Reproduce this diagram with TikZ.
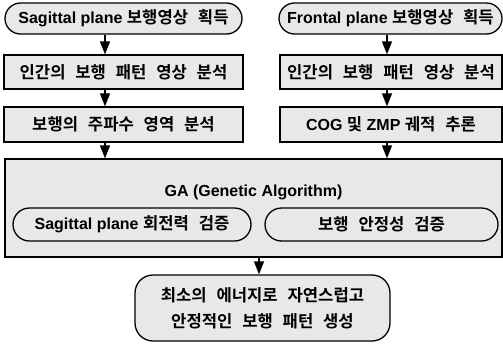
\documentclass[tikz,border=0pt]{standalone}
\usepackage{fontspec}
\setmainfont{Liberation Sans}[BoldFont={Liberation Sans Bold}]
\newfontfamily\kr{Noto Sans CJK KR}[BoldFont={Noto Sans CJK KR Bold},WordSpace=2.6,Scale=1.04]
\usetikzlibrary{shapes.misc,arrows.meta}
\begin{document}
\begin{tikzpicture}[x=1pt,y=-1pt,
  box/.style={draw,line width=1.3pt,fill=black!9,rectangle,inner sep=0pt,
    font=\bfseries\fontsize{16}{19}\selectfont},
  stadium/.style={box,rounded rectangle},
  arr/.style={line width=1.3pt,-{Triangle[length=13pt,width=10pt]}}]
\useasboundingbox (0,0) rectangle (503,343);
% top row
\node[stadium,minimum width=237pt,minimum height=31pt] (tl) at (123.5,18.5) {Sagittal plane {\kr 보행영상 획득}};
\node[stadium,minimum width=223pt,minimum height=31pt] (tr) at (390.5,18.5) {Frontal plane {\kr 보행영상 획득}};
% second row
\node[box,minimum width=239pt,minimum height=34pt] (l2) at (123.5,72) {\kr 인간의 보행 패턴 영상 분석};
\node[box,minimum width=222pt,minimum height=34pt] (r2) at (391,72) {\kr 인간의 보행 패턴 영상 분석};
% third row
\node[box,minimum width=239pt,minimum height=35pt] (l3) at (123.5,124.5) {\kr 보행의 주파수 영역 분석};
\node[box,minimum width=222pt,minimum height=35pt] (r3) at (391,124.5) {COG {\kr 및} ZMP {\kr 궤적 추론}};
% GA box
\node[box,minimum width=497pt,minimum height=98pt] (ga) at (253.5,208) {};
\node[font=\bfseries\fontsize{16}{19}\selectfont,inner sep=0pt] (galabel) at (253.5,192) {GA (Genetic Algorithm)};
\node[stadium,minimum width=238pt,minimum height=33pt] (is1) at (132,224.5) {Sagittal plane {\kr 회전력 검증}};
\node[stadium,minimum width=233pt,minimum height=33pt] (is2) at (381.5,224.5) {\kr 보행 안정성 검증};
% final
\node[box,rounded corners=18pt,minimum width=255pt,minimum height=66pt,align=center,
  font=\bfseries\kr\fontsize{16}{26}\selectfont] (fin) at (262.5,308) {최소의 에너지로 자연스럽고\\안정적인 보행 패턴 생성};
% arrows
\coordinate (xl) at (105,0);
\coordinate (xr) at (387,0);
\coordinate (xb) at (259,0);
\draw[arr] (tl.south -| xl) -- (l2.north -| xl);
\draw[arr] (l2.south -| xl) -- (l3.north -| xl);
\draw[arr] (l3.south -| xl) -- (ga.north -| xl);
\draw[arr] (tr.south -| xr) -- (r2.north -| xr);
\draw[arr] (r2.south -| xr) -- (r3.north -| xr);
\draw[arr] (r3.south -| xr) -- (ga.north -| xr);
\draw[arr] (ga.south -| xb) -- (fin.north -| xb);
\end{tikzpicture}
\end{document}
